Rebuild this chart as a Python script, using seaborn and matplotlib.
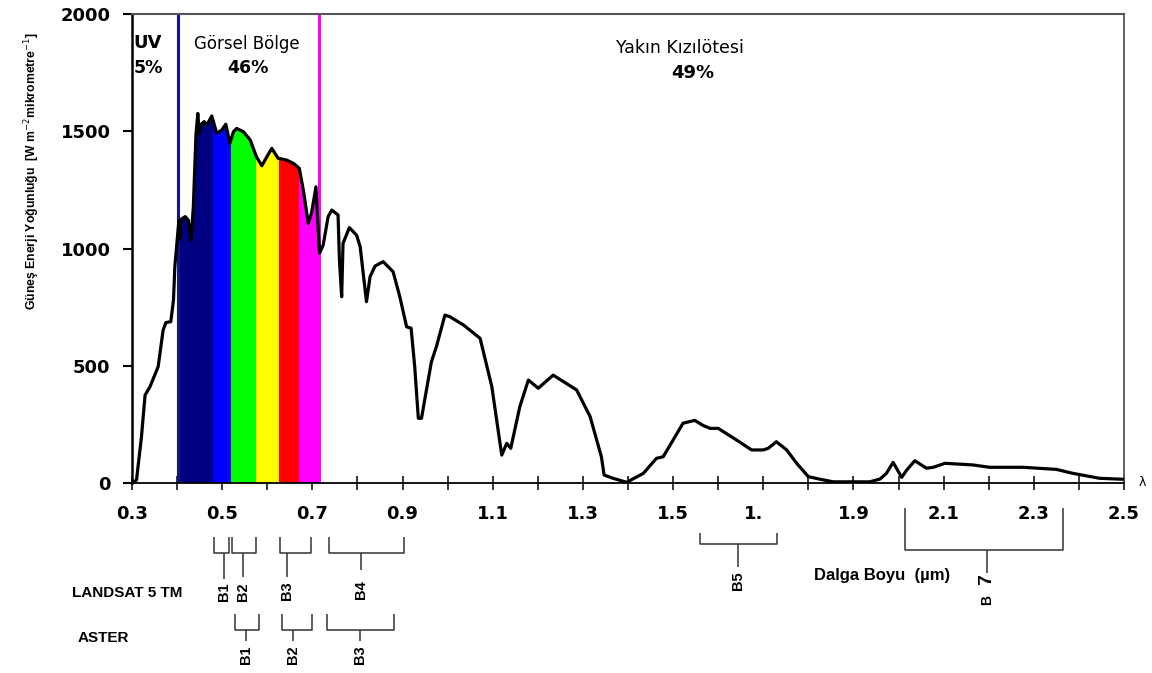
import numpy as np
import pandas as pd
import matplotlib
matplotlib.use("Agg")
import matplotlib.pyplot as plt
import seaborn as sns
from matplotlib import font_manager
from matplotlib.patches import Polygon
from matplotlib.transforms import blended_transform_factory

# ---------------- data ----------------
wavelength = [0.300, 0.303, 0.310, 0.321, 0.329, 0.340, 0.358, 0.369, 0.375, 0.386,
              0.392, 0.395, 0.399, 0.404, 0.406, 0.409, 0.418, 0.425, 0.431, 0.436,
              0.442, 0.446, 0.449, 0.452, 0.460, 0.466, 0.477, 0.488, 0.499, 0.508,
              0.517, 0.525, 0.532, 0.547, 0.562, 0.576, 0.588, 0.599, 0.610, 0.624,
              0.643, 0.658, 0.671, 0.680, 0.691, 0.698, 0.708, 0.711, 0.716, 0.724,
              0.735, 0.743, 0.757, 0.760, 0.765, 0.768, 0.782, 0.798, 0.806, 0.820,
              0.828, 0.839, 0.857, 0.879, 0.894, 0.909, 0.919, 0.927, 0.935, 0.942,
              0.964, 0.975, 0.994, 1.005, 1.035, 1.072, 1.098, 1.120, 1.131, 1.140,
              1.160, 1.179, 1.201, 1.234, 1.286, 1.316, 1.341, 1.347, 1.367, 1.397,
              1.434, 1.463, 1.478, 1.500, 1.522, 1.548, 1.567, 1.582, 1.600, 1.641,
              1.674, 1.700, 1.711, 1.729, 1.752, 1.774, 1.800, 1.826, 1.855, 1.899,
              1.936, 1.959, 1.973, 1.988, 2.007, 2.018, 2.036, 2.062, 2.077, 2.103,
              2.129, 2.165, 2.202, 2.276, 2.350, 2.387, 2.446, 2.497]
irradiance = [0, 3, 13, 197, 375, 411, 496, 652, 684, 688,
              780, 922, 1008, 1120, 1040, 1125, 1136, 1121, 1036, 1178,
              1491, 1576, 1491, 1527, 1541, 1527, 1565, 1491, 1505, 1530,
              1449, 1498, 1512, 1498, 1463, 1391, 1353, 1391, 1427, 1385,
              1377, 1363, 1342, 1249, 1107, 1150, 1263, 1150, 980, 1015,
              1136, 1164, 1143, 951, 794, 1022, 1089, 1057, 1008, 773,
              880, 925, 944, 901, 794, 666, 660, 496, 276, 276,
              517, 581, 716, 709, 674, 617, 411, 119, 169, 148,
              325, 439, 404, 460, 397, 283, 112, 34, 20, 3,
              41, 105, 112, 183, 255, 267, 245, 233, 233, 183,
              141, 141, 148, 176, 141, 84, 27, 16, 5, 5,
              5, 17, 41, 88, 24, 55, 95, 63, 67, 84,
              81, 77, 67, 67, 58, 41, 20, 16]

visible_edges = [0.40, 0.48, 0.52, 0.575, 0.625, 0.67, 0.715]
visible_colors = ["#000080", "#0000ff", "#00ff00", "#ffff00", "#ff0000", "#ff00ff"]
uv_limit = 0.401
nir_limit = 0.715

x_tick_values = [0.3, 0.4, 0.5, 0.6, 0.7, 0.8, 0.9, 1.0, 1.1, 1.2, 1.3, 1.4,
                 1.5, 1.6, 1.7, 1.8, 1.9, 2.0, 2.1, 2.2, 2.3, 2.4, 2.5]
x_tick_labels = ["0.3", "", "0.5", "", "0.7", "", "0.9", "", "1.1", "", "1.3", "",
                 "1.5", "", "1.", "", "1.9", "", "2.1", "", "2.3", "", "2.5"]
y_tick_values = [0, 500, 1000, 1500, 2000]

landsat_names = ["B1", "B2", "B3", "B4", "B5", "B7"]
landsat_start = [0.482, 0.522, 0.629, 0.736, 1.559, 2.014]
landsat_end = [0.516, 0.576, 0.696, 0.904, 1.731, 2.365]
landsat_stem = [0.504, 0.546, 0.644, 0.808, 1.645, 2.196]

aster_names = ["B1", "B2", "B3"]
aster_start = [0.529, 0.633, 0.733]
aster_end = [0.582, 0.700, 0.882]
aster_stem = [0.553, 0.657, 0.805]

ylabel_text = "Güneş Enerji Yoğunluğu  [W m$^{-2}$mikrometre$^{-1}$]"
xlabel_text = "Dalga Boyu  (µm)"

# ---------------- style ----------------
sns.set_theme(style="white")
plt.rcParams["font.family"] = ["DejaVu Sans"]
plt.rcParams["text.color"] = "black"
plt.rcParams["axes.labelcolor"] = "black"
plt.rcParams["xtick.color"] = "black"
plt.rcParams["ytick.color"] = "black"
names = {f.name for f in font_manager.fontManager.ttflist}
ARIAL = "Liberation Sans" if "Liberation Sans" in names else "DejaVu Sans"
NARROW = "Liberation Sans Narrow" if "Liberation Sans Narrow" in names else None

W, H = 1152, 673
fig = plt.figure(figsize=(W / 100, H / 100), dpi=100)
fig.patch.set_facecolor("white")


def fx(px):
    return px / W


def fy(py):
    return 1 - py / H


ax = fig.add_axes([fx(132), fy(483), (1124 - 132) / W, (483 - 14) / H])
ax.set_facecolor("white")

df = pd.DataFrame({"wl": wavelength, "irr": irradiance})

# coloured visible bands clipped under the curve
poly = Polygon(list(zip(wavelength, irradiance)) + [(2.5, 0), (0.3, 0)], closed=True,
               facecolor="none", edgecolor="none", transform=ax.transData)
ax.add_patch(poly)
for a, b, c in zip(visible_edges[:-1], visible_edges[1:], visible_colors):
    span = ax.axvspan(a, b, color=c, lw=0, zorder=1)
    span.set_clip_path(poly)

ax.axvline(uv_limit, color="#14148c", lw=2.2, zorder=2)
ax.axvline(nir_limit, color="#ff00ff", lw=2.2, zorder=2)

sns.lineplot(data=df, x="wl", y="irr", ax=ax, color="black", linewidth=2.3,
             sort=False, estimator=None, zorder=3)
for ln in ax.lines:
    ln.set_solid_joinstyle("round")

ax.set_xlim(0.3, 2.5)
ax.set_ylim(0, 2000)
ax.set_xlabel("")
ax.set_ylabel("")

ax.set_xticks(x_tick_values)
ax.set_xticklabels(x_tick_labels)
ax.set_yticks(y_tick_values)
ax.set_yticklabels([str(v) for v in y_tick_values])
for lab in ax.get_xticklabels() + ax.get_yticklabels():
    lab.set_fontweight("bold")
    lab.set_fontsize(13)
    lab.set_color("black")
ax.tick_params(axis="x", direction="inout", length=9.5, width=1.1, color="black",
               labelcolor="black", pad=11, bottom=True)
ax.tick_params(axis="y", direction="out", length=6.5, width=1.5, color="black",
               labelcolor="black", pad=9, left=True)
ax.get_xticklabels()[14].set_horizontalalignment("right")

ax.spines["left"].set_color("black")
ax.spines["left"].set_linewidth(1.8)
ax.spines["bottom"].set_color("black")
ax.spines["bottom"].set_linewidth(1.3)
ax.spines["top"].set_color("#555555")
ax.spines["top"].set_linewidth(1.5)
ax.spines["right"].set_color("#555555")
ax.spines["right"].set_linewidth(1.3)
ax.grid(False)

# ---------------- region annotations ----------------
fig.text(fx(148), fy(48), "UV", ha="center", va="baseline", fontsize=13, fontweight="bold")
fig.text(fx(148), fy(73), "5%", ha="center", va="baseline", fontsize=12.5, fontweight="bold")
fig.text(fx(247), fy(49), "Görsel Bölge", ha="center", va="baseline", fontsize=12)
fig.text(fx(248), fy(73), "46%", ha="center", va="baseline", fontsize=12.5, fontweight="bold")
fig.text(fx(680), fy(53), "Yakın Kızılötesi", ha="center", va="baseline", fontsize=12.5)
fig.text(fx(693), fy(78), "49%", ha="center", va="baseline", fontsize=13, fontweight="bold")
fig.text(fx(1142), fy(482), "λ", ha="center", va="center", fontsize=9)

# axis titles
if NARROW:
    fig.text(fx(34), fy(171), ylabel_text, rotation=90, ha="center", va="center",
             fontsize=10.5, fontweight="bold", family=NARROW)
else:
    fig.text(fx(32), fy(171), ylabel_text, rotation=90, ha="center", va="center",
             fontsize=8.8, fontweight="bold", family=ARIAL)
fig.text(fx(882), fy(580), xlabel_text, ha="center", va="baseline", fontsize=12,
         fontweight="bold", family=ARIAL)

# ---------------- sensor band brackets ----------------
trans = blended_transform_factory(ax.transData, fig.transFigure)
BR = dict(color="#333333", lw=1.1, clip_on=False, transform=trans, solid_capstyle="butt")
# layout: (top, horizontal, stem end, label centre) in pixels
landsat_layout = [(537, 553, 579, 592), (537, 553, 577, 592), (537, 553, 577, 591),
                  (537, 553, 570, 590), (533, 544, 567, 581), (508, 550, 573, None)]
for name, s, e, st, (top, hz, se, lab) in zip(landsat_names, landsat_start, landsat_end,
                                               landsat_stem, landsat_layout):
    ax.plot([s, s, e, e], [fy(top), fy(hz), fy(hz), fy(top)], **BR)
    ax.plot([st, st], [fy(hz), fy(se)], **BR)
    if lab is not None:
        ax.text(st, fy(lab), name, transform=trans, rotation=90, ha="center", va="center",
                fontsize=10.5, fontweight="bold", family=ARIAL, clip_on=False)
    else:
        ax.text(st, fy(580), name[1], transform=trans, rotation=90, ha="center", va="center",
                fontsize=14, fontweight="bold", family=ARIAL, clip_on=False)
        ax.text(st, fy(600), name[0], transform=trans, rotation=90, ha="center", va="center",
                fontsize=10, fontweight="bold", family=ARIAL, clip_on=False)

for name, s, e, st in zip(aster_names, aster_start, aster_end, aster_stem):
    ax.plot([s, s, e, e], [fy(614), fy(630), fy(630), fy(614)], **BR)
    ax.plot([st, st], [fy(630), fy(641)], **BR)
    ax.text(st, fy(655), name, transform=trans, rotation=90, ha="center", va="center",
            fontsize=10.5, fontweight="bold", family=ARIAL, clip_on=False)

fig.text(fx(72), fy(597), "LANDSAT 5 TM", ha="left", va="baseline", fontsize=11,
         fontweight="bold", family=ARIAL)
fig.text(fx(78), fy(642), "ASTER", ha="left", va="baseline", fontsize=11,
         fontweight="bold", family=ARIAL)

fig.savefig("out.png", dpi=100, facecolor="white")
